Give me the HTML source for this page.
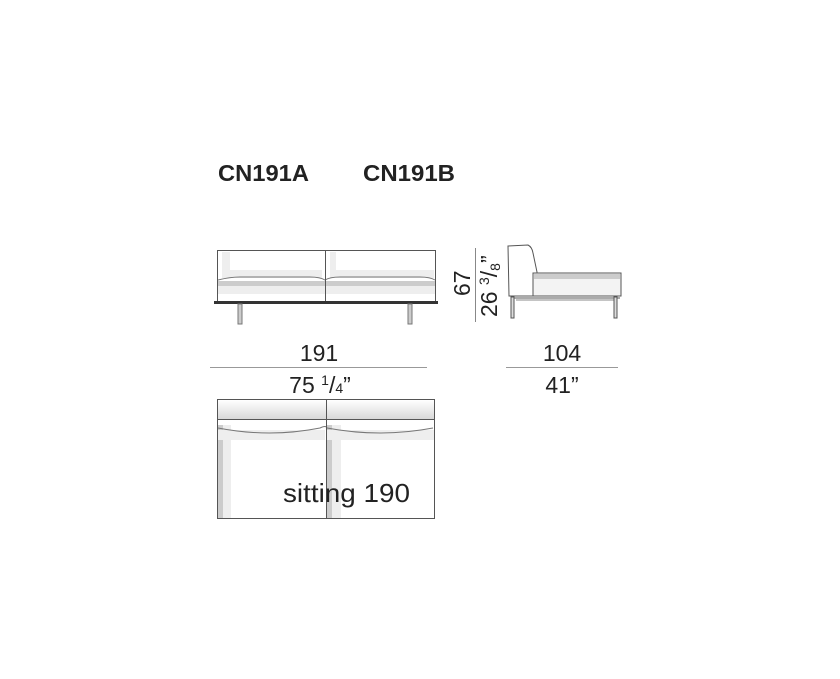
<!DOCTYPE html>
<html><head><style>
body{margin:0;background:#fff;}
svg{display:block}
text{font-family:"Liberation Sans",sans-serif;fill:#222}
</style></head><body>
<svg width="840" height="679" viewBox="0 0 840 679" xmlns="http://www.w3.org/2000/svg">
<rect width="840" height="679" fill="#fff"/>
<text x="218" y="181" font-size="23" font-weight="bold" textLength="91" lengthAdjust="spacingAndGlyphs">CN191A</text>
<text x="363" y="181" font-size="23" font-weight="bold" textLength="92" lengthAdjust="spacingAndGlyphs">CN191B</text>

<!-- front view -->
<g stroke="#555" stroke-width="1">
<rect x="217.5" y="250.5" width="218" height="52" fill="#fff"/>
<rect x="222" y="252" width="8" height="26" fill="#eee" stroke="none"/>
<rect x="222" y="270" width="100" height="8" fill="#eee" stroke="none"/>
<rect x="330" y="252" width="6" height="26" fill="#eee" stroke="none"/>
<rect x="330" y="270" width="104" height="8" fill="#eee" stroke="none"/>
<rect x="218" y="281" width="217" height="5" fill="#ccc" stroke="none"/>
<rect x="218" y="286" width="217" height="8" fill="#eee" stroke="none"/>
<path d="M218 280 Q230 277 240 277 L310 277 Q320 277 325 280 Q330 277 340 277 L420 277 Q430 277 435 280" fill="none" stroke="#777"/>
<line x1="325.5" y1="250" x2="325.5" y2="302"/>
<rect x="214" y="301" width="224" height="3" fill="#333" stroke="none"/>
<rect x="238" y="304" width="4" height="20" fill="#ccc" stroke="#777"/>
<rect x="408" y="304" width="4" height="20" fill="#ccc" stroke="#777"/>
</g>

<!-- side view -->
<g stroke="#555" stroke-width="1" fill="#fff">
<line x1="475.5" y1="248" x2="475.5" y2="322" stroke="#888"/>
<path d="M508 246 L528 245 Q532 247 533 253 L537 272 L537 296 L509 296 Z"/>
<rect x="533" y="273" width="88" height="23" fill="#f3f3f3"/>
<rect x="534" y="274" width="86" height="5" fill="#ccc" stroke="none"/>
<line x1="511" y1="298" x2="620" y2="298"/>
<line x1="516" y1="300" x2="614" y2="300" stroke="#888"/>
<rect x="511" y="297" width="3" height="21" fill="#ddd"/>
<rect x="614" y="297" width="3" height="21" fill="#ddd"/>
</g>
<text transform="translate(470 296) rotate(-90)" font-size="23">67</text>
<text transform="translate(497 317) rotate(-90)" font-size="23">26 <tspan font-size="14" dy="-8">3</tspan><tspan dy="8">/</tspan><tspan font-size="14" dy="3">8</tspan><tspan dy="-3">”</tspan></text>

<!-- dims -->
<text x="319" y="361" font-size="23" text-anchor="middle">191</text>
<line x1="210" y1="367.5" x2="427" y2="367.5" stroke="#999"/>
<text x="320" y="393" font-size="23" text-anchor="middle">75 <tspan font-size="14" dy="-8">1</tspan><tspan dy="8">/</tspan><tspan font-size="14">4</tspan>”</text>
<text x="562" y="361" font-size="23" text-anchor="middle">104</text>
<line x1="506" y1="367.5" x2="618" y2="367.5" stroke="#999"/>
<text x="562" y="393" font-size="23" text-anchor="middle">41”</text>

<!-- plan -->
<g stroke="#555" stroke-width="1">
<defs><linearGradient id="g" x1="0" y1="0" x2="0" y2="1"><stop offset="0" stop-color="#fff"/><stop offset="1" stop-color="#d8d8d8"/></linearGradient></defs>
<rect x="217.5" y="399.5" width="217" height="119" fill="#fff"/>
<rect x="218" y="400" width="216" height="19" fill="url(#g)" stroke="none"/>
<line x1="217" y1="419.5" x2="434" y2="419.5"/>
<rect x="218" y="425" width="13" height="93" fill="#eee" stroke="none"/>
<rect x="218" y="425" width="5" height="93" fill="#ccc" stroke="none"/>
<rect x="218" y="430" width="107" height="10" fill="#eee" stroke="none"/>
<rect x="327" y="425" width="14" height="93" fill="#eee" stroke="none"/>
<rect x="327" y="425" width="5" height="93" fill="#ccc" stroke="none"/>
<rect x="327" y="430" width="107" height="10" fill="#eee" stroke="none"/>
<path d="M218 428 Q270 438 320 428 Q326 425 327 428 Q380 438 433 428" fill="none" stroke="#777"/>
<line x1="326.5" y1="400" x2="326.5" y2="518"/>
</g>
<text x="283" y="502" font-size="26" textLength="127" lengthAdjust="spacingAndGlyphs">sitting 190</text>
</svg>
</body></html>
